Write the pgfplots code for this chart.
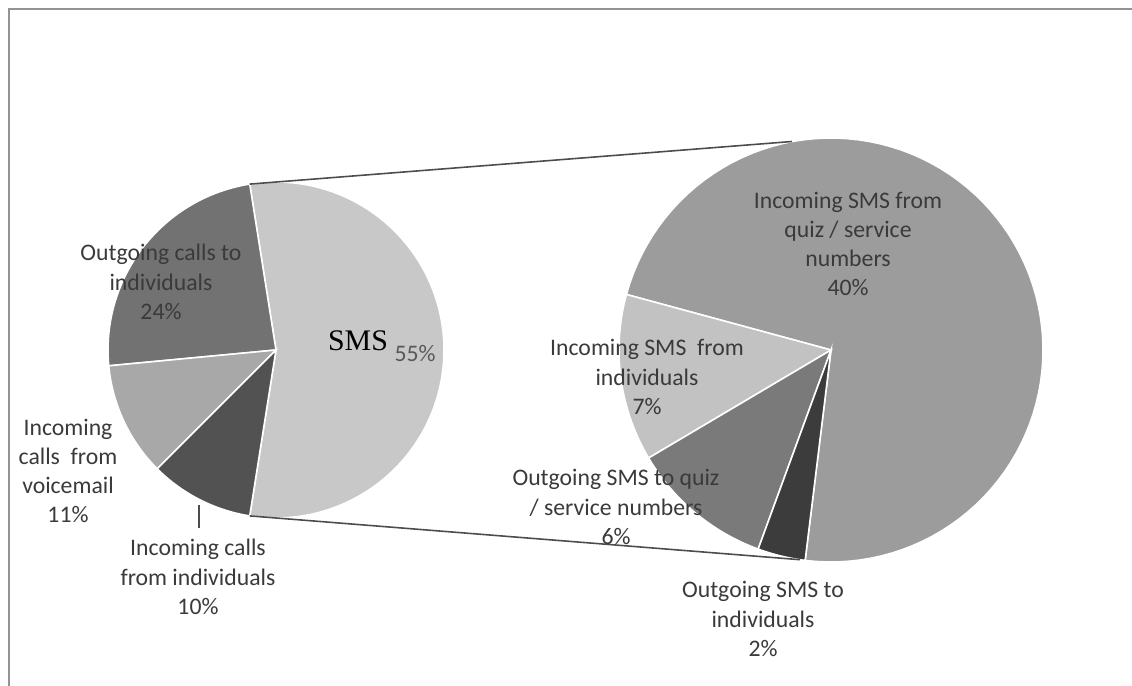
\documentclass[border=0pt]{standalone}
\usepackage{fontspec}
\setmainfont{Carlito}
\newfontfamily\timesfont{Liberation Serif}
\usepackage{pgfplots}
\pgfplotsset{compat=1.18}

% slice colours
\definecolor{cSMS}{HTML}{C8C8C8}
\definecolor{cOutCall}{HTML}{727272}
\definecolor{cVoice}{HTML}{A8A8A8}
\definecolor{cInCall}{HTML}{525252}
\definecolor{cQuizIn}{HTML}{9C9C9C}
\definecolor{cSmsIn}{HTML}{C2C2C2}
\definecolor{cQuizOut}{HTML}{7A7A7A}
\definecolor{cSmsOut}{HTML}{3C3C3C}
\definecolor{txt}{HTML}{3A3A3A}

% one wedge: centre x, centre y, radius, angle span, colour
% starts at \aStart and leaves \aStart at its end
\newcommand\pieslice[5]{%
  \pgfmathsetmacro\aEnd{\aStart+#4}%
  \edef\tmp{\noexpand\addplot[draw=white, line width=0.9pt, fill=#5,
    domain=\aStart:\aEnd, samples=90]
    ({#1+#3*cos(x)},{#2+#3*sin(x)}) -- (axis cs:#1,#2) -- cycle;}%
  \tmp
  \global\let\aStart\aEnd
}

\tikzset{lbl/.style={font=\fontsize{13.5}{16.6}\selectfont, text=txt, align=center}}

\begin{document}
\begin{tikzpicture}
\begin{axis}[
  scale only axis,
  width=22.64cm, height=13.72cm,
  xmin=0, xmax=1132, ymin=0, ymax=686,
  hide axis, clip=false,
]
% frame
\addplot[color=gray!85, line width=1.3pt] coordinates {(9,0) (9,677) (1132,677)};

% main pie (percent of all)
\pgfmathsetmacro\aStart{-55*3.6/2}
\pieslice{276}{336}{168}{55*3.6}{cSMS}
\pieslice{276}{336}{168}{24*3.6}{cOutCall}
\pieslice{276}{336}{168}{11*3.6}{cVoice}
\pieslice{276}{336}{168}{10*3.6}{cInCall}

% SMS break-down (percent of all, 55 in total)
\pgfmathsetmacro\aStart{-97}
\pieslice{831}{336}{212}{40/55*360}{cQuizIn}
\pieslice{831}{336}{212}{7/55*360}{cSmsIn}
\pieslice{831}{336}{212}{6/55*360}{cQuizOut}
\pieslice{831}{336}{212}{2/55*360}{cSmsOut}

% connectors
\addplot[color=black!70, line width=0.9pt] coordinates {(249.7,501.9) (792,544.5)};
\addplot[color=black!70, line width=0.9pt] coordinates {(249.7,170.1) (800,126.3)};
% leader line
\addplot[color=black!70, line width=0.7pt] coordinates {(199,181) (199,158)};

% labels
\node[lbl] at (axis cs:161,404) {Outgoing calls to\\individuals\\24\%};
\node[lbl, text=black, font=\timesfont\fontsize{17}{20}\selectfont] at (axis cs:358,345) {SMS};
\node[lbl, text=black!65] at (axis cs:415,332) {55\%};
\node[lbl] at (axis cs:68,215) {Incoming\\calls\ \ from\\voicemail\\11\%};
\node[lbl] at (axis cs:198,109) {Incoming calls\\from individuals\\10\%};

\node[lbl] at (axis cs:848,442) {Incoming SMS from\\quiz / service\\numbers\\40\%};
\node[lbl] at (axis cs:647,309) {Incoming SMS\ \ from\\individuals\\7\%};
\node[lbl] at (axis cs:616,179) {Outgoing SMS to quiz\\/ service\ numbers\\6\%};
\node[lbl] at (axis cs:763,67) {Outgoing SMS to\\individuals\\2\%};
\end{axis}
\pgfresetboundingbox
\path (current axis.south west) rectangle (current axis.north east);
\end{tikzpicture}
\end{document}
